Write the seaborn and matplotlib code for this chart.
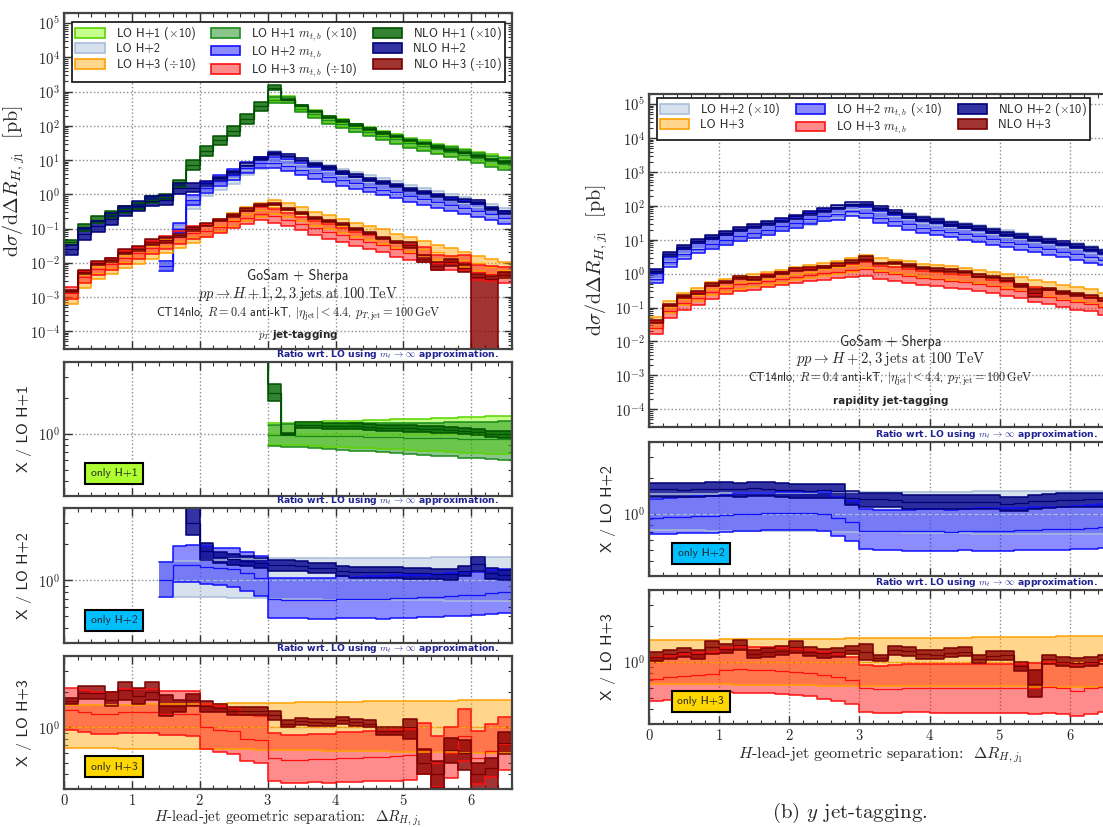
import numpy as np
import matplotlib
matplotlib.use("Agg")
import matplotlib.pyplot as plt
import seaborn as sns
from matplotlib.patches import Patch
from matplotlib.colors import to_rgba
from matplotlib.ticker import (LogLocator, MultipleLocator, FuncFormatter,
                               NullFormatter)

nan = float("nan")

# ---------------------------------------------------------------- data
BIN_EDGES = [0.0, 0.2, 0.4, 0.6, 0.8, 1.0, 1.2, 1.4, 1.6, 1.8, 2.0, 2.2, 2.4,
             2.6, 2.8, 3.0, 3.2, 3.4, 3.6, 3.8, 4.0, 4.2, 4.4, 4.6, 4.8, 5.0,
             5.2, 5.4, 5.6, 5.8, 6.0, 6.2, 6.4, 6.6]

# ---- (a) pT jet-tagging, values as displayed (H+1 x10, H+3 /10) [pb]
pt_lo_h1 = [nan, nan, nan, nan, nan, nan, nan, nan, nan, nan, nan, nan, nan,
            nan, nan, 600, 590, 330, 225, 153, 121, 90, 72, 55, 44, 34, 28,
            22.5, 19, 15.7, 12.8, 10.5, 8.8]
pt_lo_h1_down = [nan, nan, nan, nan, nan, nan, nan, nan, nan, nan, nan, nan,
                 nan, nan, nan, 0.81, 0.80, 0.80, 0.79, 0.78, 0.77, 0.76, 0.76,
                 0.75, 0.74, 0.73, 0.72, 0.71, 0.70, 0.69, 0.69, 0.68, 0.67]
pt_lo_h1_up = [nan, nan, nan, nan, nan, nan, nan, nan, nan, nan, nan, nan,
               nan, nan, nan, 1.23, 1.24, 1.25, 1.26, 1.27, 1.28, 1.29, 1.30,
               1.31, 1.32, 1.33, 1.34, 1.35, 1.36, 1.38, 1.39, 1.40, 1.42]
pt_mtb_h1 = [nan, nan, nan, nan, nan, nan, nan, nan, nan, nan, nan, nan, nan,
             nan, nan, 582, 572, 317, 216, 145, 115, 85.5, 67.7, 51.7, 40.9,
             31.6, 25.8, 20.7, 17.5, 14.3, 11.6, 9.45, 7.9]
pt_nlo_h1 = [0.04, 0.11, 0.18, 0.26, 0.36, 0.45, 0.7, 0.85, 2.1, 7, 19, 38, 72,
             160, 380, 1320, 590, 393, 266, 179, 140, 104, 82, 62, 49, 37.7,
             30.8, 24.5, 20.3, 16.6, 13.3, 10.5, 8.7]
pt_nlo_h1_down = [0.8, 0.77, 0.8, 0.78, 0.8, 0.8, 0.78, 0.8, 0.8, 0.73, 0.7,
                  0.72, 0.72, 0.7, 0.74, 0.86, 0.98, 0.94, 0.94, 0.94, 0.94,
                  0.94, 0.94, 0.94, 0.94, 0.94, 0.94, 0.94, 0.94, 0.94, 0.94,
                  0.94, 0.94]
pt_nlo_h1_up = [1.15, 1.27, 1.25, 1.22, 1.25, 1.25, 1.27, 1.2, 1.25, 1.4, 1.37,
                1.35, 1.35, 1.35, 1.32, 1.18, 1.02, 1.06, 1.06, 1.06, 1.06,
                1.06, 1.06, 1.06, 1.06, 1.06, 1.06, 1.06, 1.06, 1.06, 1.06,
                1.06, 1.06]

pt_lo_h2 = [nan, nan, nan, nan, nan, nan, nan, 0.008, 0.075, 0.5, 1.2, 1.9,
            2.9, 5.0, 8.0, 12, 10, 7.7, 6.0, 4.8, 3.7, 3.0, 2.35, 1.95, 1.6,
            1.25, 1.0, 0.82, 0.67, 0.54, 0.44, 0.34, 0.26]
pt_lo_h2_down = [nan, nan, nan, nan, nan, nan, nan, 0.73, 0.73, 0.72, 0.72,
                 0.72, 0.71, 0.71, 0.71, 0.70, 0.70, 0.70, 0.70, 0.69, 0.69,
                 0.69, 0.69, 0.68, 0.68, 0.68, 0.68, 0.68, 0.67, 0.67, 0.67,
                 0.67, 0.67]
pt_lo_h2_up = [nan, nan, nan, nan, nan, nan, nan, 1.42, 1.44, 1.46, 1.47,
               1.48, 1.49, 1.50, 1.51, 1.52, 1.52, 1.52, 1.53, 1.53, 1.53,
               1.53, 1.54, 1.54, 1.54, 1.54, 1.54, 1.55, 1.55, 1.55, 1.55,
               1.55, 1.55]
pt_mtb_h2 = [nan, nan, nan, nan, nan, nan, nan, 0.008, 0.1, 0.67, 1.56, 2.4,
             3.6, 5.75, 8.4, 8.3, 6.9, 5.3, 4.1, 3.3, 2.6, 2.1, 1.65, 1.37,
             1.14, 0.89, 0.72, 0.6, 0.5, 0.405, 0.334, 0.265, 0.208]
pt_nlo_h2 = [0.025, 0.07, 0.12, 0.19, 0.32, 0.45, 0.65, 0.7, 1.5, 1.5, 2.1,
             2.95, 4.35, 7.25, 11.2, 16, 13.3, 10.2, 7.6, 6.1, 4.45, 3.5, 2.75,
             2.28, 1.87, 1.43, 1.14, 0.93, 0.75, 0.65, 0.6, 0.39, 0.29]
pt_nlo_h2_down = [0.68, 0.64, 0.67, 0.66, 0.72, 0.71, 0.7, 0.71, 0.67, 0.8,
                  0.85, 0.9, 0.9, 0.9, 0.9, 0.9, 0.9, 0.9, 0.9, 0.9, 0.9, 0.9,
                  0.9, 0.9, 0.9, 0.9, 0.9, 0.9, 0.9, 0.9, 0.87, 0.9, 0.9]
pt_nlo_h2_up = [1.32, 1.43, 1.42, 1.5, 1.4, 1.42, 1.38, 1.4, 1.47, 1.45, 1.17,
                1.1, 1.1, 1.1, 1.1, 1.1, 1.1, 1.1, 1.1, 1.1, 1.1, 1.1, 1.1,
                1.1, 1.1, 1.1, 1.1, 1.1, 1.1, 1.1, 1.15, 1.1, 1.1]

pt_lo_h3 = [0.0009, 0.0028, 0.0049, 0.007, 0.0103, 0.014, 0.02, 0.03, 0.042,
            0.057, 0.085, 0.12, 0.175, 0.26, 0.35, 0.42, 0.34, 0.26, 0.19,
            0.15, 0.118, 0.09, 0.071, 0.057, 0.043, 0.034, 0.026, 0.02, 0.016,
            0.012, 0.0095, 0.0075, 0.006]
pt_lo_h3_down = [0.67, 0.67, 0.67, 0.67, 0.66, 0.66, 0.66, 0.66, 0.66, 0.65,
                 0.65, 0.65, 0.65, 0.65, 0.64, 0.64, 0.64, 0.64, 0.64, 0.63,
                 0.63, 0.63, 0.63, 0.63, 0.62, 0.62, 0.62, 0.62, 0.62, 0.61,
                 0.61, 0.61, 0.61]
pt_lo_h3_up = [1.53, 1.53, 1.54, 1.54, 1.55, 1.55, 1.56, 1.56, 1.57, 1.57,
               1.58, 1.58, 1.59, 1.59, 1.6, 1.61, 1.61, 1.62, 1.62, 1.63, 1.64,
               1.64, 1.65, 1.65, 1.66, 1.66, 1.67, 1.67, 1.68, 1.69, 1.69, 1.7,
               1.71]
pt_mtb_h3 = [0.00126, 0.00378, 0.00637, 0.0091, 0.0139, 0.0189, 0.027, 0.039,
             0.0546, 0.0741, 0.085, 0.114, 0.161, 0.208, 0.273, 0.231, 0.18,
             0.138, 0.103, 0.081, 0.065, 0.0495, 0.0398, 0.0319, 0.0245,
             0.0197, 0.0169, 0.01, 0.0096, 0.0102, 0.0052, 0.0047, 0.0043]
pt_nlo_h3 = [0.00149, 0.00546, 0.00956, 0.0119, 0.0211, 0.0259, 0.04, 0.045,
             0.0638, 0.0969, 0.1275, 0.176, 0.2415, 0.359, 0.483, 0.529, 0.364,
             0.291, 0.209, 0.1635, 0.1357, 0.099, 0.076, 0.053, 0.04, 0.034,
             0.013, 0.008, 0.0102, 0.0072, 0.0038, 0.0034, 0.0044]
pt_nlo_h3_down = [0.94, 0.88, 0.88, 0.88, 0.83, 0.85, 0.85, 0.83, 0.88, 0.88,
                  0.9, 0.92, 0.92, 0.92, 0.92, 0.92, 0.93, 0.93, 0.93, 0.93,
                  0.93, 0.93, 0.93, 0.93, 0.93, 0.79, 0.8, 0.77, 0.78, 0.73,
                  1e-4, 1e-4, 0.81]
pt_nlo_h3_up = [1.07, 1.15, 1.15, 1.17, 1.17, 1.17, 1.2, 1.25, 1.12, 1.12, 1.1,
                1.08, 1.08, 1.08, 1.08, 1.08, 1.07, 1.07, 1.07, 1.07, 1.07,
                1.07, 1.07, 1.07, 1.07, 1.18, 1.3, 1.3, 1.27, 1.3, 1.25, 1.2,
                1.23]

# ---- (b) rapidity jet-tagging, values as displayed (H+2 x10) [pb]
y_lo_h2 = [0.77, 2.35, 3.95, 5.8, 7.6, 9.8, 12.7, 16, 19, 24.8, 31, 39, 49, 61,
           82, 85, 64, 50, 40, 32, 28, 24, 20.5, 17.5, 14.6, 12.3, 10.4, 8.6,
           7.35, 6.1, 5.2, 4.1, 3.4]
y_lo_h2_down = [0.73, 0.73, 0.73, 0.73, 0.72, 0.72, 0.72, 0.72, 0.72, 0.71,
                0.71, 0.71, 0.71, 0.7, 0.7, 0.7, 0.7, 0.7, 0.69, 0.69, 0.69,
                0.69, 0.69, 0.68, 0.68, 0.68, 0.68, 0.68, 0.67, 0.67, 0.67,
                0.67, 0.67]
y_lo_h2_up = [1.45, 1.46, 1.46, 1.47, 1.47, 1.48, 1.48, 1.49, 1.49, 1.5, 1.5,
              1.5, 1.51, 1.51, 1.51, 1.52, 1.52, 1.52, 1.52, 1.53, 1.53, 1.53,
              1.53, 1.54, 1.54, 1.54, 1.54, 1.55, 1.55, 1.55, 1.55, 1.56, 1.56]
y_mtb_h2 = [0.708, 2.19, 3.71, 5.51, 7.3, 9.6, 12.7, 16, 19.2, 25.3, 31.6,
            39.8, 49, 56.1, 69.7, 61.2, 45.4, 35.5, 28.4, 22.7, 19.9, 17, 14.6,
            12.6, 10.5, 8.86, 7.59, 6.28, 5.44, 4.51, 3.9, 3.12, 2.62]
y_nlo_h2 = [1.23, 3.76, 6.24, 9.28, 12.2, 15.9, 20.3, 26.1, 30.8, 39.2, 48.7,
            60.5, 76.9, 94.6, 112, 112, 84.5, 65, 50.4, 40.3, 35, 30.2, 25.8,
            21.9, 18.4, 14.8, 12.7, 10.9, 9.41, 7.93, 6.76, 5.41, 4.49]
y_nlo_h2_down = 0.87
y_nlo_h2_up = 1.14

y_lo_h3 = [0.035, 0.105, 0.178, 0.24, 0.36, 0.445, 0.56, 0.62, 0.72, 0.85,
           1.0, 1.15, 1.35, 1.55, 1.8, 2.3, 1.85, 1.65, 1.45, 1.26, 1.14, 1.03,
           0.93, 0.83, 0.7, 0.59, 0.5, 0.41, 0.34, 0.28, 0.25, 0.21, 0.165]
y_lo_h3_down = [0.65, 0.65, 0.65, 0.65, 0.65, 0.65, 0.64, 0.64, 0.64, 0.64,
                0.64, 0.64, 0.63, 0.63, 0.63, 0.63, 0.63, 0.63, 0.63, 0.63,
                0.62, 0.62, 0.62, 0.62, 0.62, 0.62, 0.62, 0.61, 0.61, 0.61,
                0.61, 0.61, 0.61]
y_lo_h3_up = [1.52, 1.52, 1.53, 1.53, 1.53, 1.54, 1.54, 1.54, 1.55, 1.55,
              1.55, 1.56, 1.56, 1.56, 1.57, 1.57, 1.57, 1.58, 1.58, 1.58, 1.59,
              1.59, 1.59, 1.6, 1.6, 1.61, 1.61, 1.62, 1.62, 1.63, 1.63, 1.64,
              1.65]
y_mtb_h3 = [0.0252, 0.0777, 0.135, 0.187, 0.284, 0.378, 0.482, 0.533, 0.612,
            0.714, 0.82, 0.92, 1.05, 1.16, 1.26, 1.38, 1.09, 0.974, 0.87,
            0.756, 0.684, 0.618, 0.558, 0.498, 0.42, 0.354, 0.3, 0.246, 0.207,
            0.168, 0.1425, 0.126, 0.102]
y_nlo_h3 = [0.0385, 0.121, 0.214, 0.276, 0.479, 0.57, 0.773, 0.719, 0.864,
            1.05, 1.32, 1.4, 1.59, 1.86, 2.25, 2.76, 2.0, 2.06, 1.77, 1.45,
            1.31, 1.22, 1.13, 0.872, 0.784, 0.667, 0.46, 0.267, 0.357, 0.28,
            0.245, 0.21, 0.173]
y_nlo_h3_down = [0.92, 0.92, 0.92, 0.92, 0.88, 0.92, 0.9, 0.92, 0.92, 0.92,
                 0.89, 0.92, 0.92, 0.92, 0.92, 0.86, 0.94, 0.92, 0.92, 0.92,
                 0.92, 0.92, 0.92, 0.92, 0.92, 0.92, 0.91, 0.77, 0.92, 0.92,
                 0.92, 0.92, 0.92]
y_nlo_h3_up = [1.09, 1.09, 1.09, 1.09, 1.13, 1.09, 1.1, 1.09, 1.09, 1.09,
               1.12, 1.09, 1.09, 1.09, 1.09, 1.17, 1.06, 1.09, 1.09, 1.09,
               1.09, 1.09, 1.09, 1.09, 1.09, 1.09, 1.09, 1.3, 1.09, 1.09, 1.09,
               1.09, 1.09]

LEGEND_LEFT = ["LO H+1 ($\\times$10)", "LO H+2", "LO H+3 ($\\div$10)",
               "LO H+1 $m_{t,b}$ ($\\times$10)", "LO H+2 $m_{t,b}$",
               "LO H+3 $m_{t,b}$ ($\\div$10)",
               "NLO H+1 ($\\times$10)", "NLO H+2", "NLO H+3 ($\\div$10)"]
LEGEND_RIGHT = ["LO H+2 ($\\times$10)", "LO H+3",
                "LO H+2 $m_{t,b}$ ($\\times$10)", "LO H+3 $m_{t,b}$",
                "NLO H+2 ($\\times$10)", "NLO H+3"]

# ---------------------------------------------------------------- style
sns.set_theme(style="ticks")
plt.rcParams["font.family"] = ["cmss10", "DejaVu Sans"]
plt.rcParams["mathtext.fontset"] = "cm"
plt.rcParams["axes.unicode_minus"] = False
plt.rcParams["axes.formatter.use_mathtext"] = True

# (fill colour, fill alpha, edge colour)
COL = {
    "lo1": ("#7fff00", 0.45, "#5ad400"),
    "mtb1": ("#008000", 0.45, "#1a8c1a"),
    "nlo1": ("#006400", 0.80, "#005200"),
    "lo2": ("#b0c4de", 0.50, "#a9bdd9"),
    "mtb2": ("#0000ff", 0.45, "#1010ff"),
    "nlo2": ("#00008b", 0.80, "#000078"),
    "lo3": ("#ffa500", 0.45, "#ffa000"),
    "mtb3": ("#ff0000", 0.45, "#ff1010"),
    "nlo3": ("#8b0000", 0.80, "#7a0000"),
}
ONLY_COL = {"H+1": "#adff2f", "H+2": "#00bfff", "H+3": "#ffd700"}
RATIO_TXT = "Ratio wrt. LO using $m_t\\,\\rightarrow\\,\\infty$ approximation."
BIG = 1e4

W, H = 1103, 827
fig = plt.figure(figsize=(W / 100, H / 100), dpi=100)


def add_ax(x0, x1, yt, yb):
    return fig.add_axes([x0 / W, 1 - yb / H, (x1 - x0) / W, (yb - yt) / H])


def ext(a):
    a = np.asarray(a, float)
    return np.append(a, a[-1])


def band(ax, c, down, up, key, dashed_center=False):
    fill, alpha, edge = COL[key]
    c = np.asarray(c, float)
    lo = c * np.asarray(down, float)
    hi = c * np.asarray(up, float)
    x = np.asarray(BIN_EDGES, float)
    ax.fill_between(x, ext(lo), ext(hi), step="post", facecolor=fill,
                    alpha=alpha, linewidth=0)
    for arr, lw, ls in ((lo, 1.1, "-"), (hi, 1.1, "-"),
                        (c, 0.9, "--" if dashed_center else "-")):
        sns.lineplot(x=x, y=ext(arr), ax=ax, color=edge, lw=lw, ls=ls,
                     drawstyle="steps-post", legend=False, errorbar=None)


def ratio(vals, ref):
    v = np.asarray(vals, float)
    r = np.asarray(ref, float)
    out = v / r
    out[np.isnan(r) & np.isfinite(v)] = BIG
    return out


def style(ax, ylim, xlabels=False):
    ax.set_xlim(0, 6.6)
    ax.set_ylim(*ylim)
    ax.xaxis.set_major_locator(MultipleLocator(1))
    ax.xaxis.set_minor_locator(MultipleLocator(0.2))
    ax.yaxis.set_major_locator(LogLocator(base=10, numticks=30))
    ax.yaxis.set_minor_locator(LogLocator(base=10, subs=np.arange(2, 10),
                                          numticks=30))
    ax.yaxis.set_minor_formatter(NullFormatter())
    ax.yaxis.set_major_formatter(FuncFormatter(
        lambda v, p: r"$10^{%d}$" % int(round(np.log10(v)))))
    if xlabels:
        ax.xaxis.set_major_formatter(FuncFormatter(lambda v, p: r"$%d$" % v))
    else:
        ax.xaxis.set_major_formatter(NullFormatter())
    ax.tick_params(which="both", direction="in", top=True, right=True,
                   color="#333333")
    ax.tick_params(which="major", length=6, width=1.0, labelsize=10.5, pad=3)
    ax.tick_params(which="minor", length=3, width=0.8)
    ax.grid(True, which="major", ls=":", color="#8c8c8c", lw=1.0)
    for s in ax.spines.values():
        s.set_linewidth(1.6)
        s.set_color("#444444")


def main_panel(ax, groups, texts, legend_labels, leg_anchor, ylabel_x):
    ax.set_yscale("log")
    for (lo, lod, lou, mtb, nlo, nlod, nlou, k) in groups:
        band(ax, lo, lod, lou, "lo" + k)
        band(ax, mtb, lod, lou, "mtb" + k)
        band(ax, nlo, nlod, nlou, "nlo" + k)
    style(ax, (3e-5, 2e5))
    ax.set_ylabel(r"$\mathrm{d}\sigma/\mathrm{d}\Delta R_{H,j_1}\ \ [\mathrm{pb}]$",
                  fontsize=14.5)
    ax.yaxis.set_label_coords(ylabel_x, 0.5)
    keys = []
    for kind in ("lo", "mtb", "nlo"):
        for (*_, k) in groups:
            keys.append(kind + k)
    handles = [Patch(facecolor=to_rgba(COL[k][0], COL[k][1]),
                     edgecolor=COL[k][2], lw=1.2) for k in keys]
    leg = ax.legend(handles, legend_labels, ncol=3, loc="upper left",
                    bbox_to_anchor=leg_anchor, borderaxespad=0,
                    fontsize=8.8, handlelength=2.4, handleheight=0.8,
                    handletextpad=0.9, labelspacing=0.08, borderpad=0.26,
                    columnspacing=1.25, fancybox=False, framealpha=1,
                    edgecolor="#222222")
    leg.get_frame().set_linewidth(1.3)
    for (y, s, kw) in texts:
        ax.text(0.522, y, s, transform=ax.transAxes, ha="center",
                va="center", **kw)


def ratio_panel(ax, lo, lod, lou, mtb, nlo, nlod, nlou, k, name, xlabels,
                ylabel_x):
    ax.set_yscale("log")
    band(ax, ratio(lo, lo), lod, lou, "lo" + k, dashed_center=True)
    band(ax, ratio(mtb, lo), lod, lou, "mtb" + k)
    band(ax, ratio(nlo, lo), nlod, nlou, "nlo" + k)
    style(ax, (0.3, 4.0), xlabels=xlabels)
    ax.set_ylabel("X / LO " + name, fontsize=11.5)
    ax.yaxis.set_label_coords(ylabel_x, 0.5)
    ax.text(0.97, 1.006, RATIO_TXT, transform=ax.transAxes, ha="right",
            va="bottom", fontsize=6.7, fontweight="bold", color="#1f2390",
            family=["DejaVu Sans"])
    ax.text(0.112, 0.168, "only " + name, transform=ax.transAxes,
            ha="center", va="center", fontsize=8.3,
            bbox=dict(boxstyle="square,pad=0.5", fc=ONLY_COL[name],
                      ec="black", lw=1.5))


XLABEL = r"$H$-lead-jet geometric separation:  $\Delta R_{H,j_1}$"

# ---------------------------------------------------------------- left (a)
groups_pt = [
    (pt_lo_h1, pt_lo_h1_down, pt_lo_h1_up, pt_mtb_h1, pt_nlo_h1,
     pt_nlo_h1_down, pt_nlo_h1_up, "1"),
    (pt_lo_h2, pt_lo_h2_down, pt_lo_h2_up, pt_mtb_h2, pt_nlo_h2,
     pt_nlo_h2_down, pt_nlo_h2_up, "2"),
    (pt_lo_h3, pt_lo_h3_down, pt_lo_h3_up, pt_mtb_h3, pt_nlo_h3,
     pt_nlo_h3_down, pt_nlo_h3_up, "3"),
]
texts_pt = [
    (0.217, "GoSam + Sherpa", dict(fontsize=10.0)),
    (0.161, r"$pp \rightarrow H+1,2,3\;\mathrm{jets\ at\ 100\ TeV}$",
     dict(fontsize=10.4)),
    (0.107, r"CT14nlo, $R=0.4$ anti-kT, $|\eta_{\mathrm{jet}}|<4.4$, "
            r"$p_{T,\mathrm{jet}}=100\,\mathrm{GeV}$", dict(fontsize=8.8)),
    (0.042, r"$p_T$ jet-tagging",
     dict(fontsize=7.5, fontweight="bold", family=["DejaVu Sans"])),
]
ax = add_ax(64, 512, 13, 349)
main_panel(ax, groups_pt, texts_pt, LEGEND_LEFT, (0.018, 0.973), -0.083)

ax_positions = [(362, 496), (508, 643), (656, 789)]
for (g, name), (yt, yb) in zip(zip(groups_pt, ["H+1", "H+2", "H+3"]),
                               ax_positions):
    axr = add_ax(64, 512, yt, yb)
    last = name == "H+3"
    ratio_panel(axr, g[0], g[1], g[2], g[3], g[4], g[5], g[6], g[7], name,
                last, -0.071)
    if last:
        axr.set_xlabel(XLABEL, fontsize=10.8, family=["cmr10"])
        axr.xaxis.set_label_coords(0.5, -0.14)

# ---------------------------------------------------------------- right (b)
groups_y = [
    (y_lo_h2, y_lo_h2_down, y_lo_h2_up, y_mtb_h2, y_nlo_h2, y_nlo_h2_down,
     y_nlo_h2_up, "2"),
    (y_lo_h3, y_lo_h3_down, y_lo_h3_up, y_mtb_h3, y_nlo_h3, y_nlo_h3_down,
     y_nlo_h3_up, "3"),
]
texts_y = [
    (0.255, "GoSam + Sherpa", dict(fontsize=10.0)),
    (0.204, r"$pp \rightarrow H+2,3\;\mathrm{jets\ at\ 100\ TeV}$",
     dict(fontsize=10.6)),
    (0.147, r"CT14nlo, $R=0.4$ anti-kT, $|\eta_{\mathrm{jet}}|<4.4$, "
            r"$p_{T,\mathrm{jet}}=100\,\mathrm{GeV}$", dict(fontsize=8.8)),
    (0.078, "rapidity jet-tagging",
     dict(fontsize=7.5, fontweight="bold", family=["DejaVu Sans"])),
]
ax = add_ax(649, 1112, 94, 427)
main_panel(ax, groups_y, texts_y, LEGEND_RIGHT, (0.0166, 0.988), -0.084)

for (g, name), (yt, yb) in zip(zip(groups_y, ["H+2", "H+3"]),
                               [(442, 576), (590, 724)]):
    axr = add_ax(649, 1112, yt, yb)
    last = name == "H+3"
    ratio_panel(axr, g[0], g[1], g[2], g[3], g[4], g[5], g[6], g[7], name,
                last, -0.071)
    if last:
        axr.set_xlabel(XLABEL, fontsize=11.5, family=["cmr10"])
        axr.xaxis.set_label_coords(0.5, -0.155)

fig.text(850 / W, 1 - 825 / H, r"(b) $y$ jet-tagging.", ha="center",
         va="bottom", fontsize=15, family=["cmr10"])

fig.savefig("out.png", dpi=100)
